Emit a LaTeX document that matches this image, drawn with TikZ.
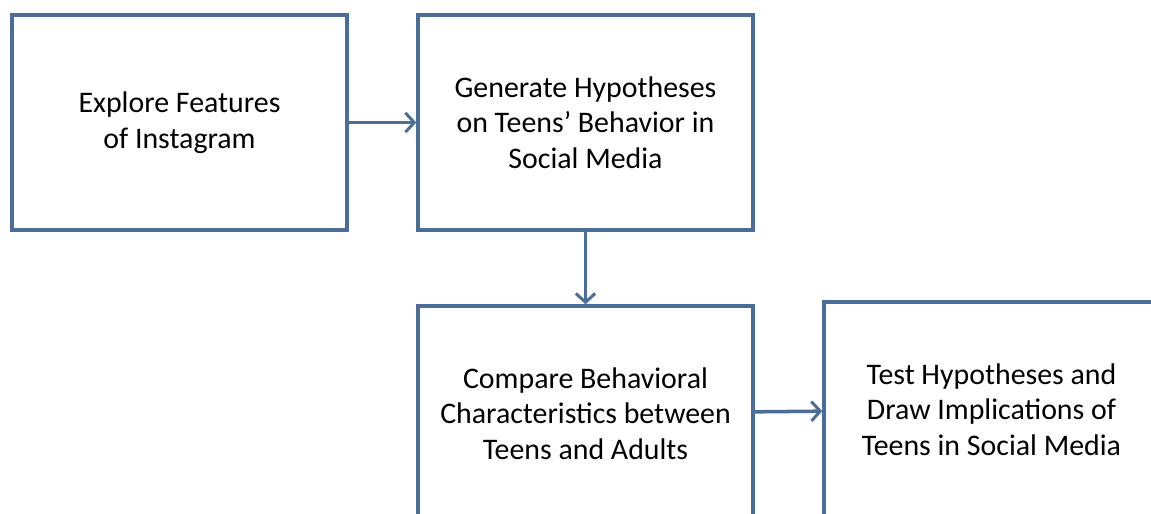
\documentclass[tikz,border=0pt]{standalone}
\usepackage{fontspec}
\setmainfont{Carlito}
\usetikzlibrary{arrows.meta}
\definecolor{boxblue}{RGB}{74,110,152}
\tikzset{
    stepbox/.style={draw=boxblue, line width=2pt, minimum width=6.7cm, minimum height=4.3cm, align=center, font=\fontsize{17}{20.3}\selectfont, inner sep=0pt},
    flow/.style={draw=boxblue, line width=2pt, -{Straight Barb[length=5pt, width=11pt, line width=1.7pt]}}
}
\begin{document}
\begin{tikzpicture}
    \useasboundingbox (0,0) rectangle (23.02,-10.28);
    \clip (0,0) rectangle (23.02,-10.28);
    \node[stepbox] (explore) at (3.59,-2.45) {Explore Features\\of Instagram};
    \node[stepbox] (hypo) at (11.71,-2.45) {Generate Hypotheses\\on Teens’ Behavior in\\Social Media};
    \node[stepbox] (compare) at (11.71,-8.27) {Compare Behavioral\\Characteristics between\\Teens and Adults};
    \node[stepbox] (test) at (19.83,-8.19) {Test Hypotheses and\\Draw Implications of\\Teens in Social Media};


    \draw[flow] (explore) to (hypo);
    \draw[flow] (hypo) to (compare);
    \draw[flow] (compare) to (test);
\end{tikzpicture}
\end{document}
